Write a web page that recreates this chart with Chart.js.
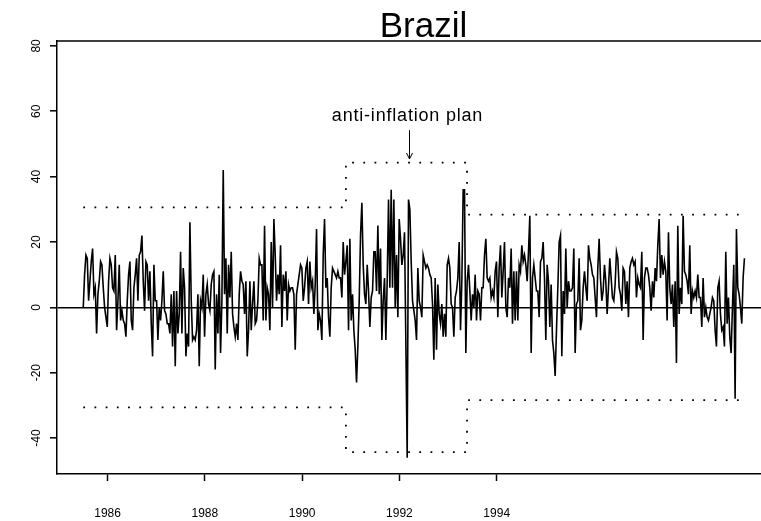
<!DOCTYPE html>
<html>
<head>
<meta charset="utf-8">
<script src="https://cdn.jsdelivr.net/npm/chart.js@4.4.1/dist/chart.umd.min.js"></script>
<style>
  html, body { margin: 0; padding: 0; background: #fff; overflow: hidden; }
  #wrap { width: 761px; height: 521px; overflow: hidden; }
</style>
</head>
<body>
<div id="wrap"><canvas id="brazil" width="790" height="521"></canvas></div>
<script>
// returns series, one value every ~10 days from mid 1985
const start = 1985.5
const step = 0.027406
const returns = [
  0, 10, 16, 15, 2, 8, 14, 18, 4, 6, -8, 4, 8, 14, 13, 6, 0, -3, -6, 8,
  15, 13, 6, 5, 16, -7, 2, 13, -4, -1, -4, -5, -9, 2, 10, 14, -4, -7, 6, 10,
  15, 2, 16, 17, 22, 8, -1, 14, 13, 2, 11, -5, -15, 13, 2, 2, -10, 0, -4, 2,
  11, -1, -2, -5, -5, -8, 4, -12, 5, -18, 5, -8, -2, 17, -8, 12, 6, -15, -8, -12,
  26,
  2, -10, -9, -10, -7, 4, -18, 2, 0, 10, -9, 4, 7, 1, -1, 7, 10, 11, -19, 4,
  -8, 10, -14, 2, 42, 4, 15, -8, 13, 3, 17, -2, -6, -9, -5, -10, 4, 11, 8, 7,
  -2, 8, -15, -7, 8, -7, 1, 8, -5, -4, 2, 15, 13, 13, -4, 25, -4, 6, 4, -7,
  20, 0, 27, 16, 2, 10, 4, 19, -6, 10, 5, 11, -4, 7, 5, 6, 6, 4, -13, 4,
  7, 10,
  13, 12, 2, 6, 12, 14, 1, 14, 6, 8, -2, 7, 24, -7, -2, -4, -10, 16, 27, 6,
  9, -3, -9, 6, 12, 11, 10, 9, 11, 9, 9, 3, 20, 10, 14, 19, -7, 21, -4, 4,
  -7, -13, -23, -12, 2, 22, 32, 13, 4, 1, 13, 5, -6, 3, 5, 17, 17, 5, 25, 4,
  18, -10, 2, 9, -10, 8, 33, 6, 36, 6, 33, 0, 16, -3, 27, 21, 13, 16, 23, -11,
  -46, 33,
  30, 14, 2, -1, -4, -10, 12, 2, 0, -3, 16, 14, 12, 13, 12, 10, 9, 1, -16, 9,
  -13, 7, -2, -5, 1, -9, -2, -9, 13, 15, 12, 1, 0, -9, 3, 5, 9, 20, -7, 8,
  36, 36, -14, 8, 13, 5, -4, 4, 0, 10, -4, 5, 4, -4, 6, 6, 16, 21, 9, 8,
  9, 3, 5, 3, 11, 14, -3, 12, 19, 3, 11, 20, 0, -3, 9, 6, 18, -5, 11, -4,
  11, -4,
  13, 11, 19, 14, 16, 13, 8, 17, 28, -14, 9, 13, 9, 5, 5, -3, 14, 15, 20, 9,
  -10, 13, 8, -6, 7, -10, -14, -21, -7, 6, 20, 22, -15, 5, -2, 18, 0, 8, 5, 5,
  6, 18, -14, 1, 2, 15, -7, -4, 6, 11, 6, 2, 19, 15, 13, 10, 9, 3, -3, 12,
  21, 9, 2, 5, 13, 8, -2, 6, 15, 9, 3, 2, 7, 17, 15, 6, 4, -1, 12, 11,
  1, 8,
  -3, 12, 14, 15, 13, 14, 3, 9, 7, 6, 17, -10, 9, 12, 12, 10, 6, -1, 8, 3,
  12, 8, 19, 27, 9, 16, 10, 14, 11, -4, 23, 6, 1, 7, -6, 8, -17, 25, -2, 6,
  1, 28, 11, 10, 8, 4, 19, -2, 5, 3, 5, 3, 10, 3, 3, -6, 9, -3, 0, -3,
  -4, -2, 0, 3, 2, -7, -12, 6, 8, -2, -7, -6, -12, 17, -5, 3, -9, -14, 0, 13,
  -28, 24, 6, 4, 0, -5, 9, 15
]

// control limits, one level per regime
const bandBreaks = [1985.5, 1990.9, 1993.39, 1999.05]
const bandUpper = [30.6, 44.3, 28.4]
const bandLower = [-30.6, -44.3, -28.4]

const yearTicks = [1986, 1988, 1990, 1992, 1994]
const valueTicks = [-40, -20, 0, 20, 40, 60, 80]

const planDate = 1992.19
const planLabel = 'anti-inflation plan'
const planTextAt = 58.5
const arrowFrom = 54.2
const arrowTo = 45.4

const FONT = '"Liberation Sans", Arial, Helvetica, sans-serif'

const series = returns.map((v, i) => ({ x: start + i * step, y: v }))

function bandLine(levels) {
  const pts = levels.map((v, i) => ({ x: bandBreaks[i], y: v }))
  pts.push({ x: bandBreaks[bandBreaks.length - 1], y: levels[levels.length - 1] })
  return pts
}

const dotted = {
  borderColor: '#000',
  borderWidth: 1.8,
  borderDash: [1.8, 9.4],
  borderCapStyle: 'butt',
  pointRadius: 0,
  stepped: 'before',
  fill: false
}

const boxAndNote = {
  id: 'boxAndNote',
  afterDatasetsDraw(chart) {
    const { ctx, chartArea, scales: { x, y } } = chart
    ctx.save()
    ctx.strokeStyle = '#000'
    ctx.lineWidth = 1.5
    ctx.beginPath()
    ctx.moveTo(chartArea.left, chartArea.top)
    ctx.lineTo(chartArea.right, chartArea.top)
    ctx.lineTo(chartArea.right, chartArea.bottom)
    ctx.stroke()

    // arrow down to the plan date
    const px = Math.round(x.getPixelForValue(planDate)) + 0.5
    const y0 = y.getPixelForValue(arrowFrom)
    const y1 = y.getPixelForValue(arrowTo)
    ctx.lineWidth = 1
    ctx.beginPath()
    ctx.moveTo(px, y0)
    ctx.lineTo(px, y1)
    ctx.moveTo(px - 3, y1 - 6)
    ctx.lineTo(px, y1)
    ctx.lineTo(px + 3, y1 - 6)
    ctx.stroke()

    ctx.fillStyle = '#000'
    ctx.font = '18px ' + FONT
    ctx.letterSpacing = '0.8px'
    ctx.textAlign = 'center'
    ctx.textBaseline = 'middle'
    ctx.fillText(planLabel, px - 2, y.getPixelForValue(planTextAt))
    ctx.restore()
  }
}

new Chart(document.getElementById('brazil'), {
  type: 'line',
  data: {
    datasets: [
      {
        data: series,
        borderColor: '#000',
        borderWidth: 1.6,
        pointRadius: 0,
        tension: 0,
        fill: false
      },
      Object.assign({ data: bandLine(bandUpper) }, dotted),
      Object.assign({ data: bandLine(bandLower) }, dotted)
    ]
  },
  options: {
    responsive: false,
    animation: false,
    events: [],
    layout: { padding: 0 },
    plugins: {
      legend: { display: false },
      tooltip: { enabled: false },
      title: {
        display: true,
        text: 'Brazil',
        fullSize: false,
        color: '#000',
        font: { family: FONT, size: 35, weight: 'normal', lineHeight: 1 },
        padding: { top: 10, bottom: -4 }
      }
    },
    scales: {
      x: {
        type: 'linear',
        min: 1984.96,
        max: 2000.03,
        afterBuildTicks: s => { s.ticks = yearTicks.map(v => ({ value: v })) },
        afterFit: s => { s.height = 47 },
        ticks: {
          color: '#000',
          font: { family: FONT, size: 12 },
          maxRotation: 0,
          autoSkip: false,
          padding: 25,
          callback: v => String(v)
        },
        grid: {
          drawOnChartArea: false,
          tickLength: 7,
          tickColor: '#000',
          tickWidth: 1.5
        },
        border: { display: true, color: '#000', width: 1.5 }
      },
      y: {
        type: 'linear',
        min: -51,
        max: 81.5,
        afterBuildTicks: s => { s.ticks = valueTicks.map(v => ({ value: v })) },
        afterFit: s => { s.width = 57 },
        ticks: {
          color: '#000',
          font: { family: FONT, size: 12 },
          minRotation: 90,
          maxRotation: 90,
          crossAlign: 'center',
          autoSkip: false,
          padding: 5
        },
        grid: {
          color: c => (c.tick && c.tick.value === 0 ? '#000' : 'rgba(0,0,0,0)'),
          lineWidth: 1.6,
          tickLength: 7,
          tickColor: '#000',
          tickWidth: 1.5
        },
        border: { display: true, color: '#000', width: 1.5 }
      }
    }
  },
  plugins: [boxAndNote]
})
</script>
</body>
</html>
